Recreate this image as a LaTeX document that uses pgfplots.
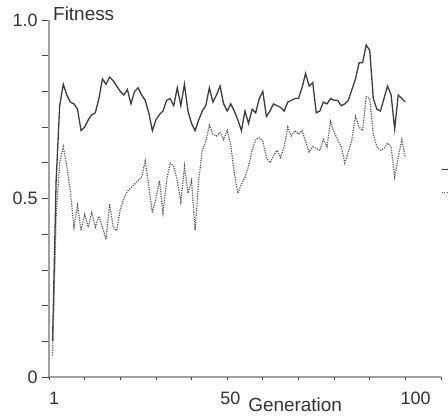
\documentclass[border=0pt]{standalone}
\usepackage{fontspec}
\setmainfont{Liberation Sans}
\usepackage{pgfplots}
\pgfplotsset{compat=1.18}
\definecolor{axgray}{HTML}{A0A0A0}
\definecolor{bestc}{HTML}{3C3C3C}
\definecolor{avgc}{HTML}{555555}
\begin{document}
\begin{tikzpicture}
\begin{axis}[
  at={(0,0)}, anchor=south west,
  scale only axis, width=392bp, height=357bp,
  xmin=0, xmax=110, ymin=0, ymax=1,
  axis lines*=left,
  axis line style={axgray, line width=2.2bp, -},
  tick align=outside,
  major tick length=7bp,
  tick style={black!70, line width=0.8bp},
  xtick=\empty,
  extra x ticks={0,10,20,30,40,50,60,70,80,90,100,110},
  extra x tick labels={\hspace{5bp}1,,,,,\hspace{-2bp}50,,,,,100,},
  extra x tick style={major tick length=2.5bp, tick style={black!70, line width=0.8bp}},
  ytick={0,0.1,0.2,0.3,0.4,0.5,0.6,0.7,0.8,0.9,1.0},
  yticklabels={0,,,,,0.5,,,,,1.0},
  /pgf/number format/assume math mode=true,
  tick label style={font=\fontsize{18}{20}\selectfont, text=black!80},
  xticklabel style={anchor=north west, inner sep=0pt, xshift=-5bp, yshift=-12bp},
  yticklabel style={xshift=-1bp},
  xlabel={Generation}, ylabel={Fitness},
  every axis x label/.style={at={(rel axis cs:0.628,0)}, anchor=north, inner sep=0pt, yshift=-21bp, font=\fontsize{19}{21}\selectfont, text=black!80},
  every axis y label/.style={at={(rel axis cs:0,1)}, anchor=base west, inner sep=0pt, xshift=4bp, yshift=-1bp, font=\fontsize{19}{21}\selectfont, text=black!80},
  clip=false,
  legend style={at={(axis cs:110,0.549)}, anchor=west, draw=none, fill=none, inner sep=0pt, row sep=21bp, nodes={inner sep=0pt}},
  legend image code/.code={\draw[#1] (0bp,0bp) -- (18bp,0bp);},
]
\addplot[bestc, line width=1.3bp] coordinates {
(1,0.10)(2,0.55)(3,0.76)(4,0.82)(5,0.79)(6,0.77)(7,0.765)(8,0.75)(9,0.69)(10,0.70)
(11,0.72)(12,0.735)(13,0.74)(14,0.78)(15,0.835)(16,0.82)(17,0.84)(18,0.83)(19,0.815)(20,0.80)
(21,0.79)(22,0.805)(23,0.765)(24,0.80)(25,0.81)(26,0.79)(27,0.775)(28,0.74)(29,0.69)(30,0.72)
(31,0.735)(32,0.745)(33,0.775)(34,0.78)(35,0.76)(36,0.81)(37,0.76)(38,0.82)(39,0.745)(40,0.71)
(41,0.69)(42,0.72)(43,0.745)(44,0.76)(45,0.81)(46,0.77)(47,0.79)(48,0.815)(49,0.765)(50,0.745)
(51,0.765)(52,0.745)(53,0.72)(54,0.69)(55,0.745)(56,0.71)(57,0.75)(58,0.74)(59,0.78)(60,0.80)
(61,0.73)(62,0.745)(63,0.765)(64,0.76)(65,0.755)(66,0.745)(67,0.77)(68,0.775)(69,0.78)(70,0.78)
(71,0.81)(72,0.85)(73,0.815)(74,0.825)(75,0.74)(76,0.745)(77,0.77)(78,0.765)(79,0.78)(80,0.775)
(81,0.775)(82,0.76)(83,0.765)(84,0.775)(85,0.805)(86,0.835)(87,0.88)(88,0.88)(89,0.93)(90,0.915)
(91,0.78)(92,0.75)(93,0.745)(94,0.78)(95,0.815)(96,0.79)(97,0.695)(98,0.79)(99,0.78)(100,0.77)
};
\addlegendentry{}
\addplot[avgc, line width=1.2bp, dash pattern=on 1.2bp off 1.2bp] coordinates {
(1,0.06)(2,0.45)(3,0.60)(4,0.645)(5,0.59)(6,0.52)(7,0.42)(8,0.48)(9,0.41)(10,0.455)
(11,0.42)(12,0.46)(13,0.42)(14,0.45)(15,0.42)(16,0.385)(17,0.485)(18,0.42)(19,0.41)(20,0.47)
(21,0.50)(22,0.52)(23,0.53)(24,0.54)(25,0.55)(26,0.56)(27,0.605)(28,0.535)(29,0.46)(30,0.50)
(31,0.55)(32,0.46)(33,0.55)(34,0.60)(35,0.59)(36,0.55)(37,0.49)(38,0.59)(39,0.515)(40,0.55)
(41,0.41)(42,0.55)(43,0.635)(44,0.66)(45,0.705)(46,0.68)(47,0.675)(48,0.685)(49,0.665)(50,0.69)
(51,0.65)(52,0.57)(53,0.515)(54,0.54)(55,0.56)(56,0.59)(57,0.635)(58,0.665)(59,0.67)(60,0.66)
(61,0.615)(62,0.60)(63,0.62)(64,0.635)(65,0.615)(66,0.645)(67,0.70)(68,0.675)(69,0.69)(70,0.68)
(71,0.69)(72,0.66)(73,0.63)(74,0.645)(75,0.64)(76,0.635)(77,0.665)(78,0.645)(79,0.715)(80,0.685)
(81,0.665)(82,0.645)(83,0.60)(84,0.63)(85,0.665)(86,0.73)(87,0.70)(88,0.69)(89,0.785)(90,0.78)
(91,0.68)(92,0.645)(93,0.635)(94,0.64)(95,0.655)(96,0.645)(97,0.56)(98,0.615)(99,0.665)(100,0.615)
};
\addlegendentry{}
\end{axis}
\pgfresetboundingbox
\useasboundingbox (-49bp,-42bp) rectangle (399bp,377bp);
\end{tikzpicture}
\end{document}
